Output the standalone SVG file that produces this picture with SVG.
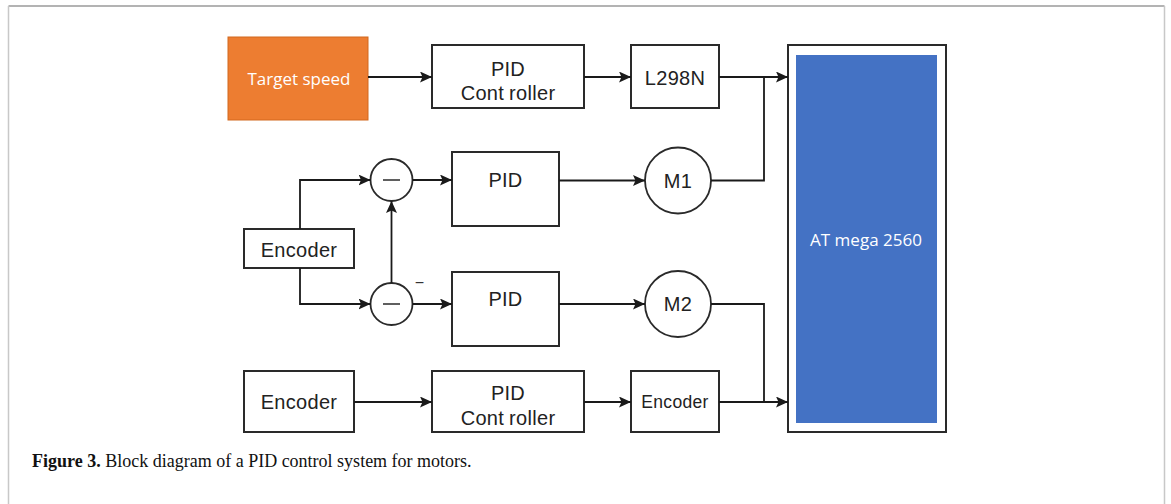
<svg xmlns="http://www.w3.org/2000/svg" width="1171" height="504" viewBox="0 0 1171 504">
<defs>
<marker id="arr" markerUnits="userSpaceOnUse" markerWidth="13" markerHeight="12" refX="12" refY="5.5" orient="auto">
<path d="M0,0 L12,5.5 L0,11 L2.5,5.5 z" fill="#1a1a1a"/>
</marker>
</defs>
<style>
.box{fill:#fff;stroke:#2a2a2a;stroke-width:2}
.lbl{font-family:"Liberation Sans",Arial,sans-serif;font-size:20px;fill:#222;text-anchor:middle;letter-spacing:0.3px}
.wlbl{font-family:"Open Sans","Noto Sans",sans-serif;font-size:17px;fill:#fff;text-anchor:middle}
.conn path{fill:none;stroke:#1a1a1a;stroke-width:1.8}
.cap{font-family:"Liberation Serif","Times New Roman",serif;font-size:18px;fill:#111}
</style>
<rect width="1171" height="504" fill="#fff"/>
<g id="frame">
<line x1="8.5" y1="6" x2="1164.5" y2="6" stroke="#9a9a9a" stroke-width="1.5"/>
<line x1="8.5" y1="6" x2="8.5" y2="504" stroke="#c8c8c8" stroke-width="1.5"/>
<line x1="1164.5" y1="6" x2="1164.5" y2="504" stroke="#c8c8c8" stroke-width="1.5"/>
</g>
<g id="target-speed">
<rect x="228" y="37" width="140" height="83" fill="#ED7D31" stroke="#D2691E" stroke-width="1"/>
<text class="wlbl" x="299" y="85">Target speed</text>
</g>
<g id="pid-controller-top">
<rect class="box" x="432" y="45" width="152" height="63"/>
<text class="lbl" x="508" y="76">PID</text>
<text class="lbl" x="508" y="100">Cont<tspan dx="5">roller</tspan></text>
</g>
<g id="l298n">
<rect class="box" x="631" y="45" width="88" height="63"/>
<text class="lbl" x="675" y="85">L298N</text>
</g>
<g id="atmega">
<rect x="788" y="45" width="158" height="387" fill="#fff" stroke="#2a2a2a" stroke-width="2"/>
<rect x="796" y="55" width="141" height="368" fill="#4472C4"/>
<text class="wlbl" x="866" y="246">AT mega 2560</text>
</g>
<g id="encoder-mid">
<rect class="box" x="244" y="229" width="110" height="39"/>
<text class="lbl" x="299" y="257">Encoder</text>
</g>
<g id="sum1">
<circle cx="391.5" cy="180" r="21" fill="#fff" stroke="#2a2a2a" stroke-width="1.8"/>
<line x1="383" y1="180" x2="400" y2="180" stroke="#2a2a2a" stroke-width="1.5"/>
</g>
<g id="sum2">
<circle cx="391.5" cy="304" r="21" fill="#fff" stroke="#2a2a2a" stroke-width="1.8"/>
<line x1="383" y1="304" x2="400" y2="304" stroke="#2a2a2a" stroke-width="1.5"/>
<text x="419.5" y="288" font-family="Liberation Sans,Arial,sans-serif" font-size="16" fill="#333" text-anchor="middle">−</text>
</g>
<g id="pid1">
<rect class="box" x="452" y="152" width="107" height="74"/>
<text class="lbl" x="505.5" y="187">PID</text>
</g>
<g id="pid2">
<rect class="box" x="452" y="272" width="107" height="74"/>
<text class="lbl" x="505.5" y="306">PID</text>
</g>
<g id="m1">
<circle cx="678" cy="180.5" r="33" fill="#fff" stroke="#2a2a2a" stroke-width="1.8"/>
<text class="lbl" x="678" y="188">M1</text>
</g>
<g id="m2">
<circle cx="678" cy="304" r="33" fill="#fff" stroke="#2a2a2a" stroke-width="1.8"/>
<text class="lbl" x="678" y="311">M2</text>
</g>
<g id="encoder-bottom">
<rect class="box" x="244" y="371" width="110" height="61"/>
<text class="lbl" x="299" y="409">Encoder</text>
</g>
<g id="pid-controller-bottom">
<rect class="box" x="432" y="371" width="152" height="61"/>
<text class="lbl" x="508" y="400">PID</text>
<text class="lbl" x="508" y="425">Cont<tspan dx="5">roller</tspan></text>
</g>
<g id="encoder-small">
<rect class="box" x="631" y="371" width="88" height="61"/>
<text class="lbl" x="675" y="408" style="font-size:17.5px">Encoder</text>
</g>
<g id="connectors" class="conn">
<path d="M368,77 H432" marker-end="url(#arr)"/>
<path d="M584,77 H631" marker-end="url(#arr)"/>
<path d="M719,77 H788" marker-end="url(#arr)"/>
<path d="M711,180.5 H764 V77"/>
<path d="M300,229 V180 H370.5" marker-end="url(#arr)"/>
<path d="M300,268 V304 H370.5" marker-end="url(#arr)"/>
<path d="M391.5,283 V201" marker-end="url(#arr)"/>
<path d="M412.5,180 H452" marker-end="url(#arr)"/>
<path d="M412.5,304 H452" marker-end="url(#arr)"/>
<path d="M559,180.5 H645" marker-end="url(#arr)"/>
<path d="M559,304 H645" marker-end="url(#arr)"/>
<path d="M711,304 H764 V402"/>
<path d="M354,402 H432" marker-end="url(#arr)"/>
<path d="M584,402 H631" marker-end="url(#arr)"/>
<path d="M719,402 H788" marker-end="url(#arr)"/>
</g>
<g id="caption">
<text class="cap" x="32" y="467"><tspan font-weight="bold">Figure 3.</tspan> Block diagram of a PID control system for motors.</text>
</g>
</svg>
